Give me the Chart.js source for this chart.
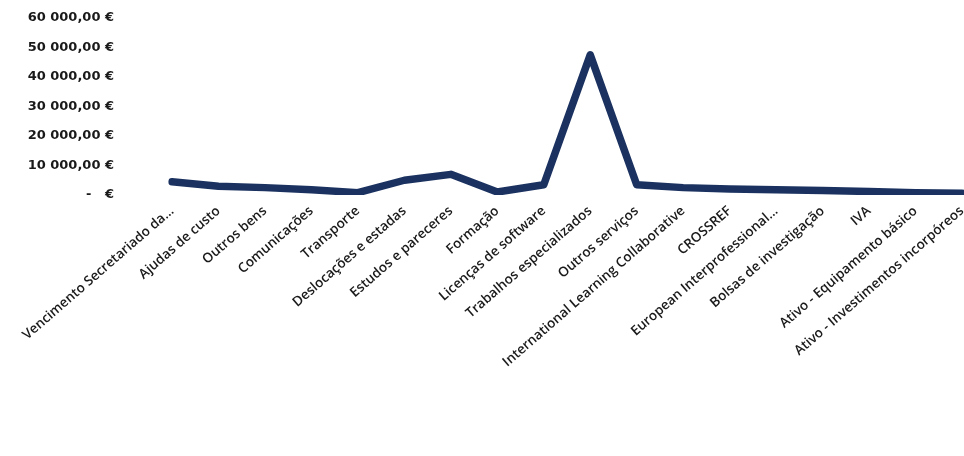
<!DOCTYPE html>
<html>
<head>
<meta charset="utf-8">
<script src="https://cdn.jsdelivr.net/npm/chart.js@4"></script>
<style>
html,body{margin:0;padding:0;background:#fff;}
#wrap{width:964px;height:456px;position:relative;}
</style>
</head>
<body>
<div id="wrap"><canvas id="c" width="964" height="456"></canvas></div>
<script>
const categories = [
  "Vencimento Secretariado da...",
  "Ajudas de custo",
  "Outros bens",
  "Comunicações",
  "Transporte",
  "Deslocações e estadas",
  "Estudos e pareceres",
  "Formação",
  "Licenças de software",
  "Trabalhos especializados",
  "Outros serviços",
  "International Learning Collaborative",
  "CROSSREF",
  "European Interprofessional...",
  "Bolsas de investigação",
  "IVA",
  "Ativo - Equipamento básico",
  "Ativo - Investimentos incorpóreos"
];
const expenses = [4500, 3000, 2500, 1800, 800, 5000, 7000, 1000, 3500, 47500, 3500, 2500, 2000, 1800, 1500, 1200, 800, 600];
const yTickValues = [0, 10000, 20000, 30000, 40000, 50000, 60000];
const yTickLabels = ["-   €", "10 000,00 €", "20 000,00 €", "30 000,00 €", "40 000,00 €", "50 000,00 €", "60 000,00 €"];

new Chart(document.getElementById('c'), {
  type: 'line',
  data: {
    labels: categories,
    datasets: [{
      data: expenses,
      borderColor: '#1b3260',
      borderWidth: 7.5,
      pointRadius: 0,
      tension: 0,
      fill: false,
      borderJoinStyle: 'round',
      borderCapStyle: 'round'
    }]
  },
  options: {
    responsive: false,
    animation: false,
    layout: { padding: { top: 18, right: 2, bottom: 84, left: 0 } },
    plugins: { legend: { display: false }, tooltip: { enabled: false } },
    scales: {
      x: {
        offset: false,
        grid: { display: false, drawTicks: false },
        border: { display: false },
        afterFit: s => { s.paddingLeft = 0; s.paddingRight = 0; s.paddingTop = 0; s.paddingBottom = 0; },
        ticks: {
          autoSkip: false,
          minRotation: 41,
          maxRotation: 41,
          padding: 8,
          color: '#1a1a1a',
          font: { family: 'Open Sans', size: 13.5, weight: '600' }
        }
      },
      y: {
        min: 0,
        max: 60000,
        grid: { display: false, drawTicks: false },
        border: { display: false },
        afterFit: s => { s.width = 172; s.paddingTop = 0; s.paddingBottom = 0; s.paddingLeft = 0; s.paddingRight = 0; },
        afterBuildTicks: s => { s.ticks = yTickValues.map(v => ({ value: v })); },
        ticks: {
          padding: 58,
          color: '#1a1a1a',
          font: { family: 'DejaVu Sans', size: 13, weight: 'bold' },
          callback: (v) => { const i = yTickValues.indexOf(v); return i >= 0 ? yTickLabels[i] : ''; }
        }
      }
    }
  }
});
</script>
</body>
</html>
